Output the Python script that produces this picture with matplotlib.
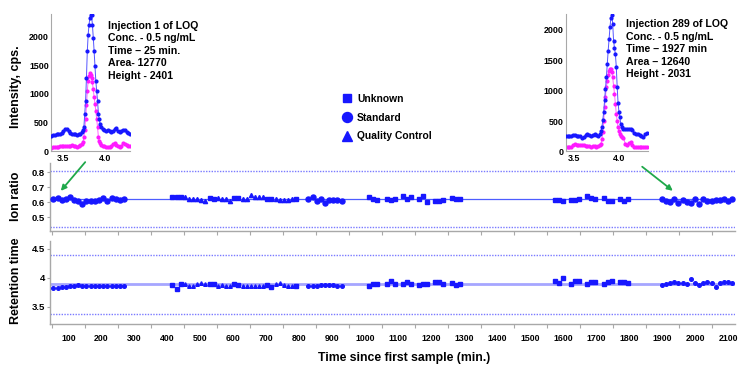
import numpy as np
import matplotlib
matplotlib.use("Agg")
import matplotlib.pyplot as plt
from matplotlib.lines import Line2D
from matplotlib.patches import FancyArrowPatch

plt.rcParams['font.family'] = ['Liberation Sans', 'DejaVu Sans']
plt.rcParams['font.weight'] = 'bold'

# ---------------- data ----------------
# run times (min since first sample)
times = [54, 68, 82, 94, 105, 118, 130, 142, 155, 168, 181, 193, 205, 218, 232, 244, 256, 268,
         415, 428, 440, 453, 465, 478, 490, 503, 515, 528, 540, 553, 565, 578, 590, 603, 615, 628,
         640, 653, 665, 678, 690, 703, 715, 728, 740, 753, 765, 778, 790,
         827, 840, 852, 865, 877, 890, 902, 915, 928,
         1012, 1024, 1036, 1065, 1077, 1089, 1113, 1125, 1137, 1162, 1174, 1186, 1210, 1222, 1234,
         1262, 1274, 1286,
         1575, 1587, 1599, 1624, 1636, 1648, 1673, 1685, 1697, 1722, 1734, 1746, 1772, 1784, 1796,
         1898, 1911, 1923, 1936, 1948, 1961, 1974, 1986, 1999, 2011, 2024, 2036, 2049, 2062, 2074,
         2087, 2099, 2112]
# S = Standard, U = Unknown, Q = Quality Control
sample_type = (['S'] * 18 +
               ['U'] * 3 + ['Q'] * 6 + ['U'] * 2 + ['Q'] * 4 + ['U'] * 2 + ['Q'] * 6 + ['U'] * 2 +
               ['Q'] * 5 + ['U'] +
               ['S'] * 9 +
               ['U'] * 18 +
               ['U'] * 15 +
               ['S'] * 18)
ion_ratio = [0.625, 0.629, 0.613, 0.622, 0.635, 0.615, 0.609, 0.591, 0.611, 0.611, 0.611, 0.613,
             0.627, 0.607, 0.627, 0.625, 0.618, 0.622,
             0.633, 0.633, 0.633, 0.636, 0.624, 0.622, 0.620, 0.613, 0.611, 0.629, 0.620, 0.629,
             0.620, 0.620, 0.611, 0.629, 0.629, 0.624, 0.624, 0.647, 0.638, 0.638, 0.638, 0.624,
             0.620, 0.620, 0.616, 0.616, 0.616, 0.620, 0.624,
             0.620, 0.633, 0.607, 0.620, 0.598, 0.613, 0.613, 0.616, 0.607,
             0.633, 0.624, 0.613, 0.620, 0.613, 0.624, 0.640, 0.620, 0.636, 0.624, 0.640, 0.602,
             0.611, 0.611, 0.616, 0.629, 0.624, 0.622,
             0.613, 0.616, 0.611, 0.613, 0.616, 0.624, 0.640, 0.629, 0.624, 0.629, 0.609, 0.609,
             0.624, 0.609, 0.624,
             0.624, 0.609, 0.602, 0.624, 0.598, 0.613, 0.602, 0.598, 0.620, 0.591, 0.620, 0.611,
             0.609, 0.613, 0.613, 0.620, 0.609, 0.624]
ret_time = [3.83, 3.83, 3.84, 3.84, 3.85, 3.85, 3.87, 3.85, 3.85, 3.86, 3.85, 3.86, 3.86, 3.86,
            3.85, 3.85, 3.86, 3.85,
            3.875, 3.806, 3.892, 3.886, 3.857, 3.857, 3.886, 3.903, 3.886, 3.892, 3.886, 3.857,
            3.875, 3.857, 3.857, 3.886, 3.880, 3.857, 3.857, 3.857, 3.857, 3.857, 3.857, 3.869,
            3.846, 3.892, 3.903, 3.880, 3.857, 3.857, 3.863,
            3.857, 3.857, 3.863, 3.880, 3.880, 3.880, 3.875, 3.863, 3.851,
            3.85, 3.89, 3.90, 3.90, 3.94, 3.90, 3.90, 3.93, 3.90, 3.88, 3.90, 3.90, 3.93, 3.92,
            3.90, 3.91, 3.87, 3.90,
            3.943, 3.903, 3.99, 3.892, 3.943, 3.949, 3.892, 3.926, 3.932, 3.886, 3.92, 3.943,
            3.932, 3.92, 3.903,
            3.874, 3.892, 3.903, 3.932, 3.903, 3.903, 3.892, 3.972, 3.903, 3.869, 3.903, 3.92,
            3.903, 3.834, 3.903, 3.92, 3.92, 3.903]

ion_center, ion_upper, ion_lower = 0.62, 0.806, 0.434
rt_center, rt_upper, rt_lower = 3.886, 4.39, 3.37

x_ticks = list(range(100, 2200, 100))
x_minor = list(range(50, 2150, 100))

# chromatogram insets (retention time min, intensity cps)
c1_time = [3.37, 3.39, 3.41, 3.43, 3.45, 3.47, 3.49, 3.51, 3.53, 3.55, 3.57, 3.59, 3.61, 3.63,
           3.65, 3.67, 3.69, 3.71, 3.73,
           3.74, 3.75, 3.76, 3.77, 3.78, 3.79, 3.80, 3.81, 3.82, 3.83, 3.84, 3.85, 3.86, 3.87,
           3.88, 3.89, 3.90, 3.91, 3.92, 3.93, 3.94, 3.95,
           3.97, 3.99, 4.01, 4.03, 4.05, 4.07, 4.09, 4.11, 4.13, 4.15, 4.17, 4.19, 4.21, 4.23,
           4.25, 4.27, 4.29]
c1_blue = [270, 280, 290, 300, 300, 310, 330, 360, 390, 385, 350, 320, 310, 300, 300, 290, 300,
           310, 340,
           380, 420, 650, 880, 1280, 1740, 2030, 2200, 2320, 2380, 2370, 2200, 1980, 1740, 1480,
           1220, 1050, 880, 660, 560, 480, 420,
           390, 370, 360, 370, 360, 340, 350, 390, 400, 360, 340, 350, 380, 370, 340, 320, 310]
c1_pink = [60, 70, 80, 75, 85, 90, 95, 100, 90, 100, 95, 100, 110, 100, 90, 85, 100, 110, 130,
           170, 250, 380, 560, 800, 1050, 1230, 1320, 1360, 1330, 1270, 1200, 1080, 950, 830,
           700, 560, 420, 250, 180, 140, 120,
           100, 90, 80, 75, 80, 100, 130, 140, 120, 90, 80, 100, 140, 130, 110, 100, 90]
c2_time = [3.41, 3.43, 3.45, 3.47, 3.49, 3.51, 3.53, 3.55, 3.57, 3.59, 3.61, 3.63, 3.65, 3.67,
           3.69, 3.71, 3.73, 3.75, 3.77, 3.79,
           3.80, 3.81, 3.82, 3.83, 3.84, 3.85, 3.86, 3.87, 3.88, 3.89, 3.90, 3.91, 3.92, 3.93,
           3.94, 3.95, 3.96, 3.97, 3.98, 3.99, 4.00, 4.01, 4.02, 4.03,
           4.05, 4.07, 4.09, 4.11, 4.13, 4.15, 4.17, 4.19, 4.21, 4.23, 4.25, 4.27, 4.29, 4.31]
c2_blue = [250, 260, 260, 250, 270, 270, 250, 260, 250, 230, 240, 270, 280, 270, 260, 270, 280,
           270, 260, 290,
           330, 400, 510, 650, 840, 1030, 1220, 1440, 1660, 1850, 2040, 2200, 2240, 2100, 1820,
           1700, 1600, 1390, 1060, 790, 650, 560, 450, 400,
           370, 370, 370, 370, 370, 360, 300, 280, 290, 270, 250, 240, 280, 300]
c2_pink = [70, 80, 75, 80, 100, 120, 110, 100, 105, 110, 100, 90, 85, 90, 80, 85, 90, 80, 85, 100,
           130, 200, 320, 500, 730, 900, 1060, 1160, 1250, 1320, 1360, 1350, 1300, 1220, 1080,
           950, 780, 620, 500, 400, 340, 290, 260, 240,
           220, 130, 110, 140, 150, 110, 80, 75, 70, 75, 70, 70, 75, 70]

inset1_text = ["Injection 1 of LOQ", "Conc. - 0.5 ng/mL", "Time \u2013 25 min.",
               "Area- 12770", "Height - 2401"]
inset2_text = ["Injection 289 of LOQ", "Conc. - 0.5 ng/mL", "Time \u2013 1927 min",
               "Area \u2013 12640", "Height - 2031"]

# ---------------- style ----------------
W, H = 750, 381
BLUE = '#1717ff'
PINK = '#ff1aff'
SPINE = '#a8a8a8'
GREEN = '#1fa84a'
marker_map = {'U': 's', 'S': 'o', 'Q': '^'}
label_map = {'U': 'Unknown', 'S': 'Standard', 'Q': 'Quality Control'}


def fx(px):
    return px / W


def fy(py):
    return 1 - py / H


fig = plt.figure(figsize=(7.5, 3.81), dpi=100)

t = np.array(times, dtype=float)
st = np.array(sample_type)
ion = np.array(ion_ratio)
rt = np.array(ret_time)

ax_ion = fig.add_axes([fx(50), fy(231), 685 / W, 68 / H])
ax_rt = fig.add_axes([fx(50), fy(324), 685 / W, 83 / H])

for ax in (ax_ion, ax_rt):
    ax.set_xlim(44.5, 2120)
    for s in ('top', 'right'):
        ax.spines[s].set_visible(False)
    for s in ('left', 'bottom'):
        ax.spines[s].set_color(SPINE)
        ax.spines[s].set_linewidth(1.0)
    ax.set_xticks(x_ticks)
    ax.set_xticks(x_minor, minor=True)
    ax.tick_params(axis='x', which='major', length=0, pad=7, labelsize=6.3)
    ax.tick_params(axis='x', which='minor', length=3, color=SPINE, width=0.8)
    ax.tick_params(axis='y', length=2, color=SPINE, pad=1.5, labelsize=6.8)
    for lbl in ax.get_xticklabels() + ax.get_yticklabels():
        lbl.set_fontweight('bold')

ax_ion.tick_params(axis='x', which='major', labelbottom=False)

# ion ratio panel
ax_ion.set_ylim(0.409, 0.862)
ax_ion.set_yticks([0.5, 0.6, 0.7, 0.8])
ax_ion.set_yticklabels(['0.5', '0.6', '0.7', '0.8'], fontweight='bold')
ax_ion.axhline(ion_center, color='#4d5cff', lw=0.9, zorder=1)
ax_ion.axhline(ion_upper, color='#7a7aff', lw=1.0, ls=(0, (1, 1)), zorder=1)
ax_ion.axhline(ion_lower, color='#7a7aff', lw=1.0, ls=(0, (1, 1)), zorder=1)
ion_ms = {'U': 3.3, 'S': 3.6, 'Q': 3.0}
for k in ('U', 'S', 'Q'):
    m = st == k
    ax_ion.plot(t[m], ion[m], ls='none', marker=marker_map[k], ms=ion_ms[k],
                color=BLUE, mec=BLUE, zorder=3)

# retention time panel
ax_rt.set_ylim(3.202, 4.633)
ax_rt.set_yticks([3.5, 4.0, 4.5])
ax_rt.set_yticklabels(['3.5', '4', '4.5'], fontweight='bold')
ax_rt.axhline(rt_center, color='#a6a6ff', lw=2.0, zorder=1)
ax_rt.axhline(rt_upper, color='#7a7aff', lw=1.0, ls=(0, (1, 1)), zorder=1)
ax_rt.axhline(rt_lower, color='#7a7aff', lw=1.0, ls=(0, (1, 1)), zorder=1)
rt_ms = {'U': 2.6, 'S': 2.6, 'Q': 2.6}
for k in ('U', 'S', 'Q'):
    m = st == k
    ax_rt.plot(t[m], rt[m], ls='none', marker=marker_map[k], ms=rt_ms[k],
               color=BLUE, mec=BLUE, zorder=3)

# axis labels
fig.text(fx(15.7), fy(196), 'Ion ratio', rotation=90, ha='center', va='center',
         fontsize=9, fontweight='bold')
fig.text(fx(15.7), fy(281), 'Retention time', rotation=90, ha='center', va='center',
         fontsize=9, fontweight='bold')
fig.text(fx(15.7), fy(87), 'Intensity, cps.', rotation=90, ha='center', va='center',
         fontsize=9, fontweight='bold')
fig.text(fx(404), fy(358.3), 'Time since first sample (min.)', ha='center', va='center',
         fontsize=8.8, fontweight='bold')

# insets
def make_inset(rect, xt, b, p, xlim, ylim):
    ax = fig.add_axes(rect)
    ax.plot(xt, b, '-o', color='#5555ff', lw=0.7, ms=2.0, mfc=BLUE, mec=BLUE, zorder=3)
    ax.plot(xt, p, '-o', color='#ff66ff', lw=0.7, ms=2.0, mfc=PINK, mec=PINK, zorder=2)
    ax.set_xlim(*xlim)
    ax.set_ylim(*ylim)
    for s in ('top', 'right'):
        ax.spines[s].set_visible(False)
    for s in ('left', 'bottom'):
        ax.spines[s].set_color(SPINE)
    ax.set_xticks([3.5, 4.0])
    ax.set_xticklabels(['3.5', '4.0'], fontweight='bold')
    ax.set_yticks([0, 500, 1000, 1500, 2000])
    ax.set_yticklabels(['0', '500', '1000', '1500', '2000'], fontweight='bold')
    ax.tick_params(axis='both', length=0, pad=1.5, labelsize=6.4)
    ax.patch.set_alpha(0)
    return ax


make_inset([fx(51), fy(151.5), 79 / W, 137.5 / H], c1_time, c1_blue, c1_pink,
           (3.365, 4.29), (0, 2390))
make_inset([fx(565.7), fy(151.5), 82 / W, 137.5 / H], c2_time, c2_blue, c2_pink,
           (3.408, 4.319), (0, 2260))

for i, line in enumerate(inset1_text):
    fig.text(fx(108), fy(25.7 + 12.5 * i), line, ha='left', va='center',
             fontsize=7.6, fontweight='bold')
for i, line in enumerate(inset2_text):
    fig.text(fx(626), fy(24.3 + 12.5 * i), line, ha='left', va='center',
             fontsize=7.6, fontweight='bold')

# arrows
for (x0, y0), (x1, y1) in [((87, 160), (59, 193)), ((640, 165), (675, 192.5))]:
    fig.add_artist(FancyArrowPatch((fx(x0), fy(y0)), (fx(x1), fy(y1)),
                                   transform=fig.transFigure, arrowstyle='-|>',
                                   mutation_scale=8, color=GREEN, lw=1.3))

# legend
handles = [Line2D([], [], ls='none', marker='s', ms=5.5, color=BLUE),
           Line2D([], [], ls='none', marker='o', ms=7.2, color=BLUE),
           Line2D([], [], ls='none', marker='^', ms=7.0, color=BLUE)]
fig.legend(handles, [label_map['U'], label_map['S'], label_map['Q']],
           loc='upper left', bbox_to_anchor=(fx(342), fy(94)), frameon=False,
           handlelength=1.0, handletextpad=0.45, labelspacing=0.84,
           prop={'size': 7.4, 'weight': 'bold'}, borderpad=0, borderaxespad=0)

fig.savefig('out.png', dpi=100)
